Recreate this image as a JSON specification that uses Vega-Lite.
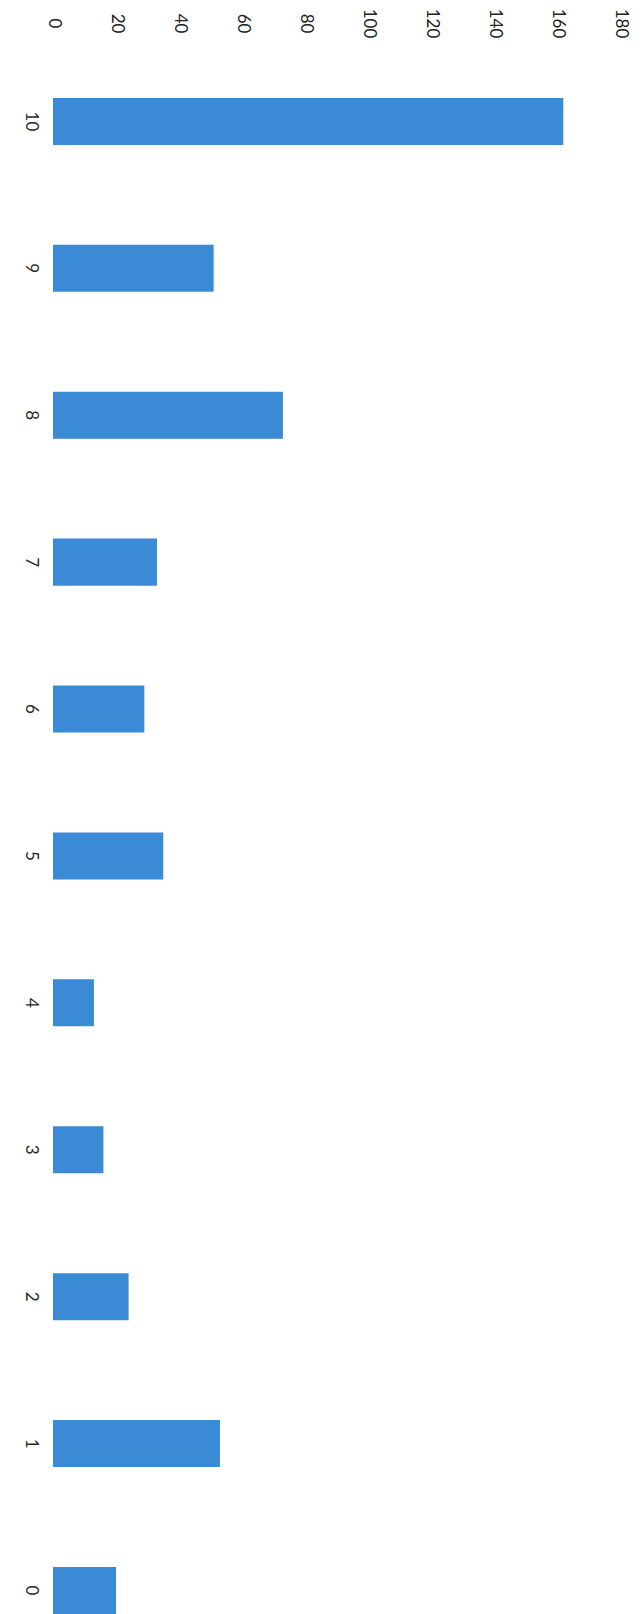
{
  "$schema": "https://vega.github.io/schema/vega-lite/v6.json",
  "autosize": {"type": "none"},
  "width": 567,
  "height": 1564,
  "padding": {"left": 53, "top": 50, "right": 22, "bottom": 0},
  "background": "white",
  "data": {
    "values": [
      {"score": "10", "count": 162},
      {"score": "9", "count": 51},
      {"score": "8", "count": 73},
      {"score": "7", "count": 33},
      {"score": "6", "count": 29},
      {"score": "5", "count": 35},
      {"score": "4", "count": 13},
      {"score": "3", "count": 16},
      {"score": "2", "count": 24},
      {"score": "1", "count": 53},
      {"score": "0", "count": 20}
    ]
  },
  "mark": {"type": "bar", "color": "#3b8ad6"},
  "encoding": {
    "y": {
      "field": "score",
      "type": "ordinal",
      "sort": ["10", "9", "8", "7", "6", "5", "4", "3", "2", "1", "0"],
      "scale": {"paddingInner": 0.68, "paddingOuter": 0.163, "align": 1},
      "axis": {
        "title": null,
        "orient": "left",
        "domain": false,
        "ticks": false,
        "labelAngle": 90,
        "labelAlign": "center",
        "labelBaseline": "middle",
        "labelPadding": 23,
        "labelFont": "Lato",
        "labelFontSize": 17,
        "labelColor": "#2a2a2a"
      }
    },
    "x": {
      "field": "count",
      "type": "quantitative",
      "scale": {"domain": [0, 180], "nice": false},
      "axis": {
        "title": null,
        "orient": "top",
        "values": [0, 20, 40, 60, 80, 100, 120, 140, 160, 180],
        "grid": false,
        "domain": false,
        "ticks": false,
        "labelAngle": 90,
        "labelAlign": "center",
        "labelBaseline": "middle",
        "labelPadding": 27,
        "labelFont": "Lato",
        "labelFontSize": 17,
        "labelColor": "#222222",
        "labelOverlap": false,
        "labelFlush": false
      }
    }
  },
  "config": {"view": {"stroke": null}}
}
